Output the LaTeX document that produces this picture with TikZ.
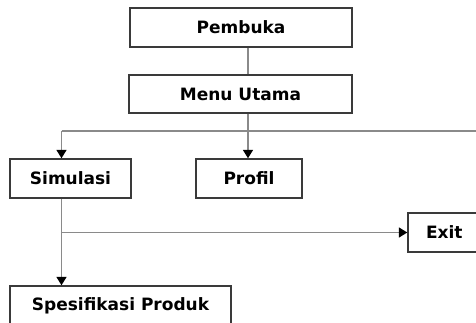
\documentclass[tikz,border=0pt]{standalone}
\usepackage{fontspec}
\setmainfont{DejaVu Sans}
\usetikzlibrary{arrows.meta}
\definecolor{boxline}{HTML}{3A3A3A}
\definecolor{conn}{HTML}{8A8A8A}
\tikzset{
  box/.style={draw=boxline, line width=1.4pt, fill=white, inner sep=0pt,
    font=\bfseries\fontsize{17}{20}\selectfont},
  link/.style={draw=conn, line width=1.6pt},
  arr/.style={link, -{Triangle[width=10pt,length=8.5pt,fill=black,color=black]}}
}
\begin{document}
\begin{tikzpicture}[x=1pt,y=-1pt]
\useasboundingbox (0,0) rectangle (476,323);
\begin{scope}
\clip (0,0) rectangle (476,323);
\node[box, minimum width=222pt, minimum height=39pt] (pembuka) at (241,27.5) {Pembuka};
\node[box, minimum width=223pt, minimum height=38pt] (menu) at (240.5,94) {Menu Utama};
\node[box, minimum width=121pt, minimum height=39pt] (simulasi) at (70.5,178.5) {Simulasi};
\node[box, minimum width=106pt, minimum height=39pt] (profil) at (249,178.5) {Profil};
\node[box, minimum width=76pt, minimum height=39pt, text width=72pt, align=left] (exit) at (446,232.5) {\hspace*{16pt}Exit};
\node[box, minimum width=221pt, minimum height=39pt] (spes) at (120.5,305.5) {Spesifikasi Produk};
\coordinate (cx) at (248,0);
\coordinate (lx) at (61.5,0);
\coordinate (br) at (61.5,131);
\coordinate (brend) at (480,131);
\coordinate (ex) at (61.5,232.5);
\draw[link] (pembuka.south -| cx) -- (menu.north -| cx);
\draw[arr] (menu.south -| cx) -- (profil.north -| cx);
\draw[link] (br) -- (brend);
\draw[arr] (br) -- (simulasi.north -| lx);
\draw[arr] (simulasi.south -| lx) -- (spes.north -| lx);
\draw[arr] (ex) -- (exit.west);
\end{scope}
\end{tikzpicture}
\end{document}
